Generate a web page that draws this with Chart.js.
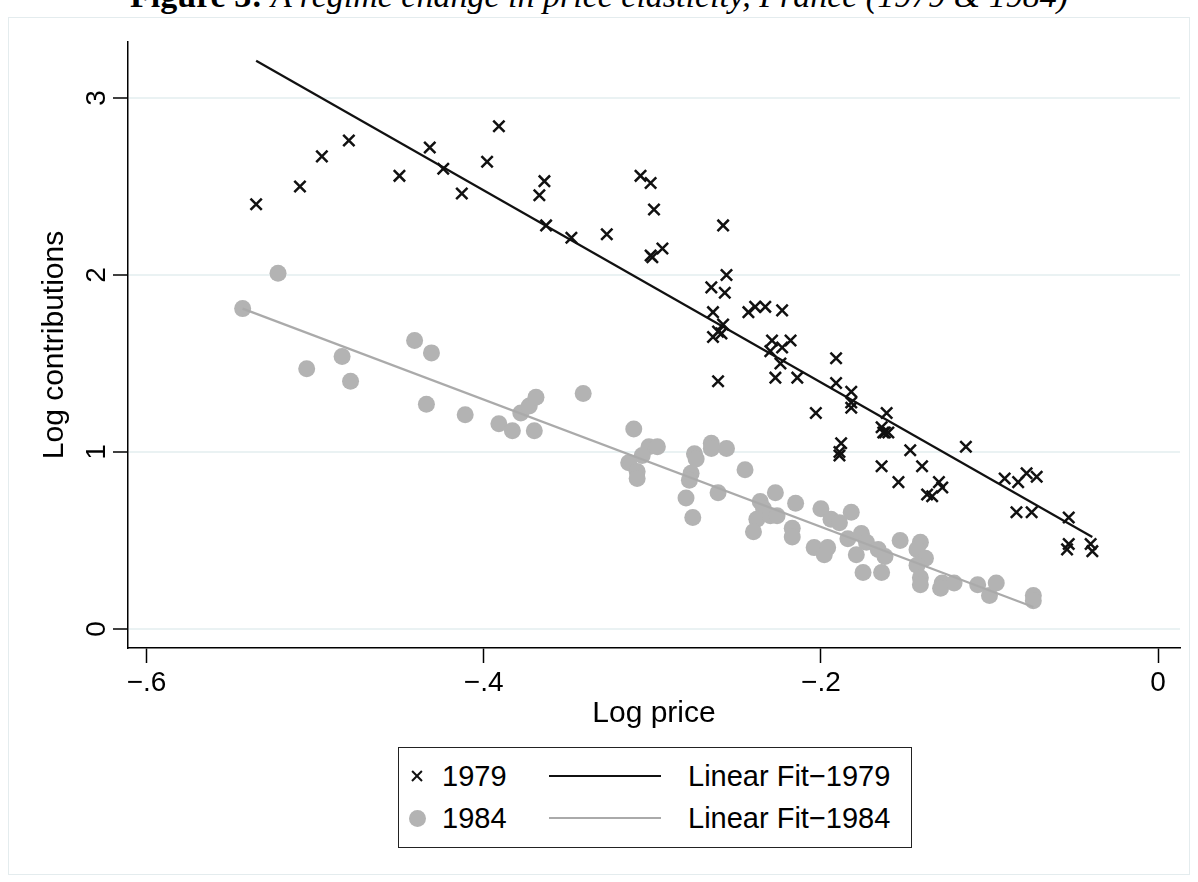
<!DOCTYPE html>
<html>
<head>
<meta charset="utf-8">
<script src="https://cdn.jsdelivr.net/npm/chart.js@4/dist/chart.umd.min.js"></script>
<style>
body { margin: 0; background: #fff; width: 1198px; height: 882px; overflow: hidden; position: relative; font-family: "Liberation Sans", Arial, sans-serif; }
#frame { position: absolute; left: 8px; top: 17px; width: 1182px; height: 858px; border: 1px solid #e4ecee; box-sizing: border-box; }
#title { position: absolute; left: 0; top: -21px; width: 1198px; text-align: center; font-family: "Liberation Serif", serif; font-size: 34px; line-height: 34px; white-space: nowrap; }
#title i { font-style: italic; }
#wrap { position: absolute; left: 0; top: 0; width: 1198px; height: 740px; }
#legend { position: absolute; left: 398px; top: 747px; width: 514px; height: 101px; border: 1.5px solid #222; box-sizing: border-box; font-size: 29px; color: #000; }
#legend .t { position: absolute; line-height: 32px; white-space: nowrap; }
#legend .ln { position: absolute; height: 2px; }
.xm { position: absolute; width: 12px; height: 12px; }
.xm:before, .xm:after { content: ""; position: absolute; left: -1px; top: 5px; width: 14px; height: 2.2px; background: #111; }
.xm:before { transform: rotate(45deg); }
.xm:after { transform: rotate(-45deg); }
.dot { position: absolute; width: 17px; height: 17px; border-radius: 50%; background: #b3b3b3; }
</style>
</head>
<body>
<div id="frame"></div>
<div id="title"><b>Figure 3:</b> <i>A regime change in price elasticity, France (1979 &amp; 1984)</i></div>
<div id="wrap"><canvas id="myChart" width="1198" height="740"></canvas></div>
<div id="legend">
  <div class="xm" style="left:12px;top:22px"></div>
  <div class="t" style="left:43px;top:12px">1979</div>
  <div class="ln" style="left:150px;top:27px;width:112px;background:#111"></div>
  <div class="t" style="left:289px;top:12px">Linear Fit&minus;1979</div>
  <div class="dot" style="left:10px;top:62px"></div>
  <div class="t" style="left:43px;top:54px">1984</div>
  <div class="ln" style="left:150px;top:69px;width:112px;background:#aaa"></div>
  <div class="t" style="left:289px;top:54px">Linear Fit&minus;1984</div>
</div>
<script>
// 1979 observations (log price, log contributions)
const x1979 = [-0.535,-0.509,-0.496,-0.480,-0.450,-0.432,-0.424,-0.413,-0.398,-0.391,
  -0.364,-0.367,-0.363,-0.348,-0.327,-0.307,-0.301,-0.299,-0.301,-0.300,
  -0.294,-0.258,-0.256,-0.265,-0.257,-0.264,-0.258,-0.261,-0.264,-0.259,
  -0.243,-0.239,-0.233,-0.223,-0.229,-0.223,-0.218,-0.230,-0.224,-0.227,
  -0.214,-0.261,-0.191,-0.191,-0.182,-0.182,-0.182,-0.203,-0.161,-0.164,
  -0.162,-0.160,-0.163,-0.188,-0.189,-0.189,-0.147,-0.114,-0.164,-0.140,
  -0.154,-0.130,-0.128,-0.137,-0.134,-0.091,-0.083,-0.078,-0.072,-0.084,
  -0.075,-0.053,-0.053,-0.054,-0.040,-0.039]
const y1979 = [2.40,2.50,2.67,2.76,2.56,2.72,2.60,2.46,2.64,2.84,
  2.53,2.45,2.28,2.21,2.23,2.56,2.52,2.37,2.11,2.10,
  2.15,2.28,2.00,1.93,1.90,1.79,1.72,1.68,1.65,1.67,
  1.79,1.82,1.82,1.80,1.63,1.59,1.63,1.57,1.50,1.42,
  1.42,1.40,1.53,1.39,1.34,1.28,1.25,1.22,1.22,1.14,
  1.11,1.11,1.11,1.05,1.00,0.98,1.01,1.03,0.92,0.92,
  0.83,0.83,0.80,0.76,0.75,0.85,0.83,0.88,0.86,0.66,
  0.66,0.63,0.48,0.45,0.48,0.44]

// 1984 observations
const x1984 = [-0.543,-0.522,-0.505,-0.484,-0.479,-0.441,-0.431,-0.434,-0.411,-0.391,
  -0.383,-0.370,-0.378,-0.373,-0.369,-0.341,-0.311,-0.302,-0.297,-0.306,
  -0.314,-0.309,-0.309,-0.275,-0.274,-0.265,-0.265,-0.256,-0.277,-0.278,
  -0.280,-0.276,-0.261,-0.245,-0.236,-0.234,-0.238,-0.240,-0.230,-0.226,
  -0.227,-0.215,-0.217,-0.217,-0.200,-0.194,-0.189,-0.182,-0.184,-0.176,
  -0.173,-0.179,-0.175,-0.204,-0.196,-0.198,-0.164,-0.166,-0.162,-0.153,
  -0.141,-0.143,-0.138,-0.143,-0.141,-0.141,-0.128,-0.129,-0.121,-0.107,
  -0.100,-0.096,-0.074,-0.074]
const y1984 = [1.81,2.01,1.47,1.54,1.40,1.63,1.56,1.27,1.21,1.16,
  1.12,1.12,1.22,1.26,1.31,1.33,1.13,1.03,1.03,0.98,
  0.94,0.89,0.85,0.99,0.96,1.05,1.02,1.02,0.88,0.84,
  0.74,0.63,0.77,0.90,0.72,0.68,0.62,0.55,0.64,0.64,
  0.77,0.71,0.57,0.52,0.68,0.62,0.60,0.66,0.51,0.54,
  0.49,0.42,0.32,0.46,0.46,0.42,0.32,0.45,0.41,0.50,
  0.49,0.45,0.40,0.36,0.29,0.25,0.26,0.23,0.26,0.25,
  0.19,0.26,0.19,0.16]

// fitted lines, end points
const fit1979X = [-0.535, -0.039]
const fit1979Y = [3.21, 0.52]
const fit1984X = [-0.543, -0.074]
const fit1984Y = [1.81, 0.125]

const xTicks = [-0.6, -0.4, -0.2, 0]
const xTickLabels = ['\u2212.6', '\u2212.4', '\u2212.2', '0']
const yTicks = [0, 1, 2, 3]
const yTickLabels = ['0', '1', '2', '3']

const toPoints = (xs, ys) => xs.map((x, i) => ({ x: x, y: ys[i] }))
const sans = '"Liberation Sans", Arial, sans-serif'

let ctx = document.getElementById('myChart').getContext('2d');
let myChart = new Chart(ctx, {
    type: 'scatter',
    data: {
        datasets: [
            {
                label: '1979',
                data: toPoints(x1979, y1979),
                pointStyle: 'crossRot',
                pointRadius: 8,
                borderColor: '#111',
                backgroundColor: '#111',
                pointBorderWidth: 2.5,
                order: 3
            },
            {
                label: '1984',
                data: toPoints(x1984, y1984),
                pointStyle: 'circle',
                pointRadius: 8.5,
                borderWidth: 0,
                pointBorderWidth: 0,
                backgroundColor: '#b3b3b3',
                borderColor: '#b3b3b3',
                order: 2
            },
            {
                label: 'Linear Fit\u22121979',
                data: toPoints(fit1979X, fit1979Y),
                showLine: true,
                pointRadius: 0,
                borderColor: '#111',
                borderWidth: 2.2,
                order: 1
            },
            {
                label: 'Linear Fit\u22121984',
                data: toPoints(fit1984X, fit1984Y),
                showLine: true,
                pointRadius: 0,
                borderColor: '#aaaaaa',
                borderWidth: 2.2,
                order: 0
            }
        ]
    },
    options: {
        responsive: false,
        animation: false,
        layout: { padding: { left: 0, top: 42, right: 18, bottom: 0 } },
        plugins: {
            legend: { display: false },
            tooltip: { enabled: false }
        },
        scales: {
            x: {
                type: 'linear',
                min: -0.611,
                max: 0.013,
                afterBuildTicks: (scale) => { scale.ticks = xTicks.map(v => ({ value: v })) },
                afterFit: (scale) => { scale.height = 92 },
                ticks: {
                    autoSkip: false,
                    maxRotation: 0,
                    padding: 3,
                    color: '#000',
                    font: { family: sans, size: 28 },
                    callback: (val, index) => xTickLabels[index]
                },
                grid: { drawOnChartArea: false, drawTicks: true, tickLength: 15, tickColor: '#000', tickWidth: 1.5 },
                border: { color: '#000', width: 1.5 },
                title: {
                    display: true,
                    text: 'Log price',
                    color: '#000',
                    font: { family: sans, size: 30 },
                    padding: { top: 0, bottom: 8 }
                }
            },
            y: {
                type: 'linear',
                min: -0.107,
                max: 3.316,
                afterBuildTicks: (scale) => { scale.ticks = yTicks.map(v => ({ value: v })) },
                afterFit: (scale) => { scale.width = 128 },
                ticks: {
                    autoSkip: false,
                    minRotation: 90,
                    maxRotation: 90,
                    crossAlign: 'center',
                    padding: 8,
                    color: '#000',
                    font: { family: sans, size: 28 },
                    callback: (val, index) => yTickLabels[index]
                },
                grid: { color: '#eaf2f3', lineWidth: 2, drawTicks: true, tickLength: 15, tickColor: '#000', tickWidth: 1.5 },
                border: { color: '#000', width: 1.5 },
                title: {
                    display: true,
                    text: 'Log contributions',
                    color: '#000',
                    font: { family: sans, size: 30 },
                    padding: { top: 37, bottom: 0 }
                }
            }
        }
    }
});
</script>
</body>
</html>
